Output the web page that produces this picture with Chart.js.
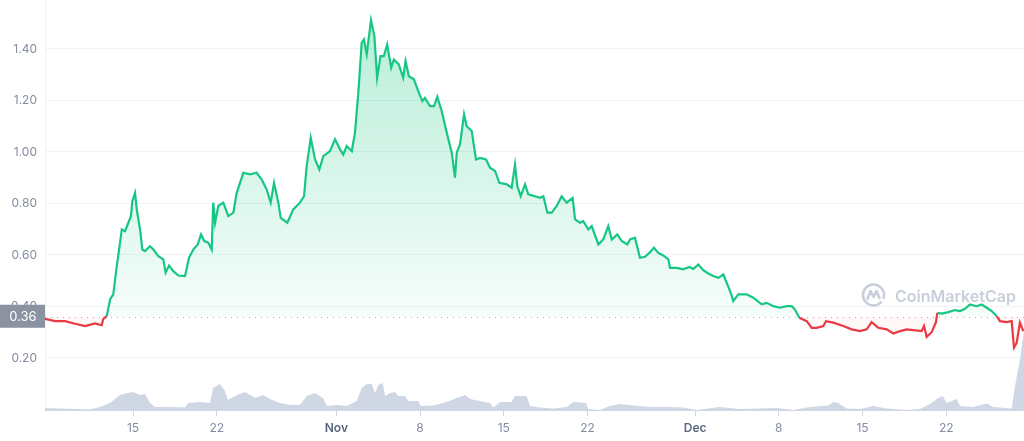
<!DOCTYPE html>
<html>
<head>
<meta charset="utf-8">
<script src="https://cdn.jsdelivr.net/npm/chart.js@4"></script>
<style>
  html, body { margin: 0; padding: 0; background: #fff; }
  #wrap { width: 1024px; height: 441px; }
</style>
</head>
<body>
<div id="wrap"><canvas id="myChart" width="1024" height="441"></canvas></div>
<script>
// days counted from Oct 1 = 1 (so Nov 1 = 32, Dec 1 = 62)
const priceDays = [7.64,8.48,9.31,10.15,10.99,11.82,12.38,12.52,12.80,13.08,13.35,13.64,13.83,14.06,14.33,14.61,14.83,14.94,15.17,15.31,15.59,15.78,16.00,16.42,16.70,17.12,17.53,17.73,18.01,18.37,18.79,19.35,19.68,20.04,20.41,20.69,20.96,21.30,21.58,21.71,21.86,22.13,22.55,22.97,23.39,23.67,24.22,24.78,25.34,25.76,26.18,26.51,26.79,27.15,27.35,27.90,28.40,28.96,29.30,29.52,29.86,30.22,30.58,30.91,31.47,31.89,32.31,32.58,32.87,33.29,33.56,33.84,34.12,34.31,34.54,34.90,35.18,35.41,35.69,35.97,36.25,36.59,36.81,37.22,37.59,37.79,38.06,38.48,38.90,39.19,39.41,39.83,40.17,40.44,40.81,41.23,41.65,41.92,42.07,42.34,42.68,42.90,43.32,43.68,44.01,44.52,44.85,45.27,45.63,46.25,46.66,46.94,47.13,47.42,47.78,48.05,48.61,49.03,49.31,49.65,50.01,50.43,50.84,51.26,51.76,51.96,52.37,52.65,53.07,53.35,53.91,54.32,54.74,55.03,55.49,55.86,56.33,56.56,56.97,57.39,57.81,58.17,58.56,58.92,59.34,59.76,59.90,60.46,61.01,61.51,61.85,62.27,62.68,63.10,63.52,63.94,64.36,64.64,64.98,65.19,65.61,66.31,66.86,67.57,67.99,68.54,69.10,69.66,70.08,70.35,70.71,71.33,71.75,72.17,72.72,72.94,73.55,74.39,75.09,75.79,76.35,76.76,77.32,78.02,78.57,79.13,79.69,80.24,80.94,81.14,81.36,81.78,82.14,82.25,82.62,83.17,83.73,84.15,84.57,84.98,85.54,85.96,86.38,86.80,87.22,87.49,88.05,88.47,88.66,88.89,89.16,89.44];
const prices = [0.352,0.343,0.343,0.333,0.324,0.334,0.327,0.352,0.362,0.427,0.447,0.557,0.619,0.699,0.692,0.725,0.751,0.809,0.841,0.777,0.699,0.621,0.615,0.634,0.621,0.595,0.583,0.531,0.559,0.537,0.520,0.518,0.589,0.621,0.641,0.680,0.654,0.647,0.621,0.803,0.725,0.790,0.803,0.751,0.764,0.841,0.919,0.913,0.919,0.893,0.854,0.803,0.880,0.803,0.744,0.725,0.777,0.803,0.828,0.945,1.055,0.971,0.932,0.984,1.003,1.049,1.010,0.990,1.023,1.003,1.075,1.230,1.424,1.437,1.379,1.512,1.450,1.288,1.372,1.372,1.417,1.327,1.359,1.340,1.288,1.353,1.294,1.282,1.230,1.197,1.210,1.178,1.178,1.214,1.159,1.075,0.997,0.900,0.997,1.029,1.146,1.100,1.081,0.971,0.977,0.971,0.939,0.926,0.880,0.874,0.861,0.951,0.867,0.828,0.874,0.835,0.828,0.822,0.828,0.764,0.764,0.790,0.828,0.803,0.822,0.738,0.725,0.731,0.699,0.712,0.641,0.660,0.712,0.660,0.680,0.654,0.641,0.660,0.667,0.589,0.593,0.608,0.628,0.608,0.598,0.583,0.550,0.550,0.544,0.553,0.546,0.563,0.541,0.528,0.518,0.511,0.524,0.492,0.453,0.421,0.447,0.447,0.434,0.408,0.414,0.401,0.395,0.401,0.401,0.388,0.356,0.343,0.317,0.317,0.324,0.343,0.337,0.324,0.311,0.304,0.311,0.339,0.317,0.311,0.295,0.304,0.311,0.308,0.304,0.324,0.282,0.300,0.339,0.375,0.372,0.378,0.386,0.382,0.391,0.408,0.401,0.408,0.395,0.382,0.362,0.343,0.339,0.343,0.240,0.259,0.337,0.304];

// volume (M USD)
const volumeDays = [7.64,8.89,10.15,11.40,12.24,13.08,13.91,14.50,15.00,15.59,16.00,16.42,16.84,18.09,19.35,19.60,20.60,21.44,21.69,22.27,22.69,22.94,23.70,24.36,25.20,25.87,26.45,27.29,28.13,28.96,29.52,30.22,30.89,31.20,32.03,32.87,33.70,34.12,34.54,34.96,35.23,35.51,35.88,36.07,36.49,36.91,37.18,37.74,38.02,38.85,39.06,40.11,41.23,42.07,42.76,43.18,44.01,44.85,45.13,45.69,46.66,46.94,47.92,48.19,49.03,50.14,51.26,51.82,52.88,53.07,54.05,54.88,55.72,56.83,58.23,59.62,61.01,62.13,64.08,65.75,67.42,68.82,70.21,71.60,73.14,73.55,73.97,74.67,75.79,76.90,78.02,79.69,80.80,81.64,82.33,82.70,83.03,83.87,84.15,85.26,86.38,86.93,88.47,88.75,89.16,89.50];
const volumes = [1.5,1.2,1,0.8,2,4,8,9,9.5,8,8.5,4,2,2,1.8,4,4.5,4,11.5,13.5,10,5.5,8,9.5,6.5,8,6,4,3,3,7.5,9,6.5,2.5,3,2.5,5,11.5,13.5,13.5,9,13,14,7.5,9,9.5,7.5,7.5,5,5,2.5,2.8,4.5,6.5,8,6,5,4,1.8,4.5,4.5,7.5,7.5,2.5,1.8,1.2,2,4.5,4,1,0.5,2.5,3.5,2.8,2,2,1.8,0.5,2,1,1.2,1.5,0.5,2,2.8,4.5,4,1.2,1,2.5,1.2,0.5,1,3.5,6.5,7.5,4,6,2.5,2,3.8,2,1.2,12.5,25.5,40];

const tickDays = [15, 22, 32, 39, 46, 53, 62, 69, 76, 83];
const tickLabels = ['15', '22', 'Nov', '8', '15', '22', 'Dec', '8', '15', '22'];
const priceTicks = [0.2, 0.4, 0.6, 0.8, 1.0, 1.2, 1.4];
const baseline = 0.36;

const green = '#16c784';
const red = '#ea3943';

const priceData = priceDays.map((d, i) => ({ x: d, y: prices[i] }));
const volumeData = volumeDays.map((d, i) => ({ x: d, y: volumes[i] }));

// linea punteada + etiqueta del precio base + marca de agua
const overlay = {
  id: 'overlay',
  beforeDatasetsDraw(chart) {
    const ctx = chart.ctx;
    const a = chart.chartArea;
    // watermark
    ctx.save();
    ctx.strokeStyle = '#c9cfda';
    ctx.lineWidth = 2.6;
    ctx.lineCap = 'round';
    ctx.lineJoin = 'round';
    const cx = 873.5, cy = 295;
    ctx.beginPath();
    ctx.arc(cx, cy, 10.5, 0.25 * Math.PI, 1.95 * Math.PI + 0.25 * Math.PI - 0.35);
    ctx.stroke();
    ctx.beginPath();
    ctx.moveTo(cx - 6, cy + 4);
    ctx.lineTo(cx - 3, cy - 4);
    ctx.lineTo(cx, cy + 2);
    ctx.lineTo(cx + 3, cy - 4);
    ctx.lineTo(cx + 6, cy + 3);
    ctx.stroke();
    ctx.fillStyle = '#c9cfda';
    ctx.font = '600 16px Inter';
    ctx.textBaseline = 'alphabetic';
    ctx.fillText('CoinMarketCap', 895, 302);
    ctx.restore();

    // dotted baseline
    const y = chart.scales.y.getPixelForValue(baseline);
    ctx.save();
    ctx.strokeStyle = '#a7afc0';
    ctx.lineWidth = 1;
    ctx.setLineDash([1, 5]);
    ctx.beginPath();
    ctx.moveTo(a.left, Math.round(y) + 0.5);
    ctx.lineTo(a.right, Math.round(y) + 0.5);
    ctx.stroke();
    ctx.restore();
  },
  afterDraw(chart) {
    const ctx = chart.ctx;
    const y = chart.scales.y.getPixelForValue(baseline);
    ctx.save();
    ctx.fillStyle = '#8b92a1';
    ctx.fillRect(0, y - 12, 45, 23);
    ctx.fillStyle = '#ffffff';
    ctx.font = '13px Inter';
    ctx.textAlign = 'center';
    ctx.textBaseline = 'middle';
    ctx.fillText(baseline.toFixed(2), 23, y);
    ctx.restore();
  }
};

const ctx = document.getElementById('myChart').getContext('2d');
const myChart = new Chart(ctx, {
  type: 'line',
  data: {
    datasets: [
      {
        label: 'Price',
        data: priceData,
        yAxisID: 'y',
        order: 0,
        borderWidth: 2.2,
        pointRadius: 0,
        tension: 0,
        borderColor: green,
        segment: {
          borderColor: c => ((c.p0.parsed.y + c.p1.parsed.y) / 2 >= baseline ? green : red)
        },
        backgroundColor: (c) => {
          const chart = c.chart;
          if (!chart.chartArea || !chart.scales.y) return 'rgba(22,199,132,0.15)';
          const yTop = chart.scales.y.getPixelForValue(1.5);
          const yBase = chart.scales.y.getPixelForValue(baseline);
          const g = chart.ctx.createLinearGradient(0, yTop, 0, yBase);
          g.addColorStop(0, 'rgba(22,199,132,0.30)');
          g.addColorStop(1, 'rgba(22,199,132,0.04)');
          return g;
        },
        fill: { target: { value: baseline }, below: 'rgba(234,57,67,0.035)' }
      },
      {
        label: 'Volume',
        data: volumeData,
        yAxisID: 'vol',
        order: 1,
        borderWidth: 0,
        pointRadius: 0,
        tension: 0,
        backgroundColor: '#cfd6e4',
        fill: 'origin'
      }
    ]
  },
  options: {
    responsive: false,
    animation: false,
    layout: { padding: 0 },
    plugins: {
      legend: { display: false },
      tooltip: { enabled: false }
    },
    scales: {
      x: {
        type: 'linear',
        min: 7.64,
        max: 89.5,
        afterBuildTicks: axis => { axis.ticks = tickDays.map(v => ({ value: v })); },
        afterFit: s => { s.height = 30; s.paddingLeft = 0; s.paddingRight = 0; },
        grid: { display: true, drawOnChartArea: false, drawTicks: true, tickLength: 5, color: '#cfd4dd' },
        border: { display: false },
        ticks: {
          padding: 5,
          maxRotation: 0,
          autoSkip: false,
          callback: (v, i) => tickLabels[i],
          color: c => (isNaN(Number(tickLabels[c.index])) ? '#58667e' : '#858ca2'),
          font: c => ({ family: 'Inter', size: 12, weight: isNaN(Number(tickLabels[c.index])) ? '600' : '400' })
        }
      },
      y: {
        position: 'left',
        min: -0.006,
        max: 1.59,
        afterBuildTicks: axis => { axis.ticks = priceTicks.map(v => ({ value: v })); },
        afterFit: s => { s.width = 45; s.paddingTop = 0; s.paddingBottom = 0; },
        grid: { color: '#eff2f5', drawTicks: false },
        border: { display: true, color: '#eff2f5' },
        ticks: {
          padding: 8,
          color: '#858ca2',
          font: { family: 'Inter', size: 12 },
          callback: v => v.toFixed(2)
        }
      },
      vol: {
        display: false,
        min: 0,
        max: 205.5
      }
    }
  },
  plugins: [overlay]
});
</script>
</body>
</html>
